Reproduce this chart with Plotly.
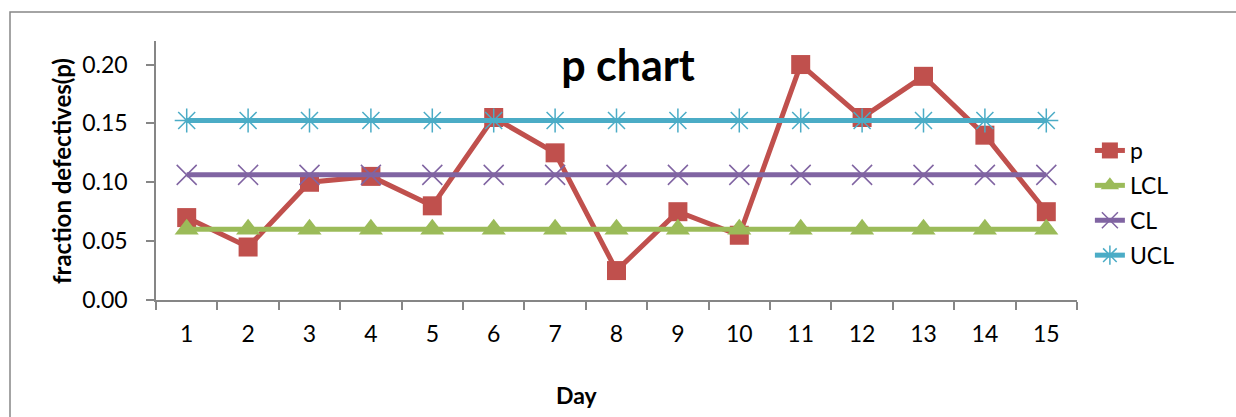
import plotly.graph_objects as go

# Daily fraction defective with p-chart control limits
days = [str(d) for d in range(1, 16)]
p_values = [0.070, 0.045, 0.100, 0.105, 0.080, 0.155, 0.125, 0.025,
            0.075, 0.055, 0.200, 0.155, 0.190, 0.140, 0.075]
lcl = [0.0601] * 15
cl = [0.1063] * 15
ucl = [0.1525] * 15
y_ticks = [0.00, 0.05, 0.10, 0.15, 0.20]

FONT = "Lato"
L, R, T, B = 156, 159, 41, 117
W, H = 1236, 417
plot_w = W - L - R
plot_h = H - T - B


def px_x(x):
    return (x - L) / plot_w


def px_y(y):
    return (H - B - y) / plot_h


fig = go.Figure()

fig.add_trace(go.Scatter(
    x=days, y=p_values, name="p", mode="lines+markers", legendgroup="p",
    line=dict(color="#C0504D", width=5),
    marker=dict(symbol="square", size=19, color="#C0504D"),
))
fig.add_trace(go.Scatter(
    x=days, y=lcl, name="LCL", mode="lines+markers", legendgroup="lcl",
    line=dict(color="#9BBB59", width=5),
    marker=dict(symbol="triangle-up", size=21, color="#9BBB59"),
))
fig.add_trace(go.Scatter(
    x=days, y=cl, name="CL", mode="lines+markers", legendgroup="cl",
    line=dict(color="#8064A2", width=5),
    marker=dict(symbol="x-thin", size=20, color="#8064A2",
                line=dict(color="#8064A2", width=1.5)),
))
fig.add_trace(go.Scatter(
    x=days, y=ucl, name="UCL", mode="lines+markers", legendgroup="ucl",
    line=dict(color="#4BACC6", width=5),
    marker=dict(symbol="asterisk", size=20, color="#4BACC6",
                line=dict(color="#4BACC6", width=1.5)),
))

axis_color = "#868686"

fig.update_layout(
    width=W, height=H,
    margin=dict(l=L, r=R, t=T, b=B),
    paper_bgcolor="white", plot_bgcolor="white",
    font=dict(family=FONT, size=23, color="black"),
    title=dict(text="<b>p chart</b>", font=dict(family=FONT, size=43, color="black"),
               x=628 / W, xanchor="center", xref="container",
               y=1 - 66 / H, yanchor="middle"),
    showlegend=True,
    legend=dict(x=1.014, xanchor="left", y=px_y(129), yanchor="top",
                font=dict(family=FONT, size=23), tracegroupgap=2,
                bgcolor="rgba(0,0,0,0)"),
    xaxis=dict(type="category", range=[-0.5, 14.5], showgrid=False, zeroline=False,
               showline=True, linecolor=axis_color, linewidth=1.5,
               ticks="outside", tickson="boundaries", ticklen=8,
               tickcolor=axis_color, tickwidth=1.5,
               ticklabelstandoff=13),
    yaxis=dict(range=[0, 0.22], tickvals=y_ticks, tickformat=".2f",
               showgrid=False, zeroline=False, showline=True,
               linecolor=axis_color, linewidth=1.5,
               ticks="outside", ticklen=8, tickcolor=axis_color, tickwidth=1.5,
               ticklabelstandoff=14),
    annotations=[
        dict(text="<b>Day</b>", xref="paper", yref="paper",
             x=px_x(577), y=px_y(395), xanchor="center", yanchor="middle",
             showarrow=False, font=dict(family=FONT, size=23)),
        dict(text="<b>fraction defectives(p)</b>", xref="paper", yref="paper",
             x=px_x(61), y=px_y(171), xanchor="center", yanchor="middle",
             textangle=-90, showarrow=False, font=dict(family=FONT, size=24)),
    ],
    shapes=[
        dict(type="rect", xref="paper", yref="paper",
             x0=px_x(10), x1=px_x(1300), y0=px_y(500), y1=px_y(12),
             line=dict(color="#878787", width=1.5), fillcolor="rgba(0,0,0,0)",
             layer="below"),
    ],
)

fig.write_html("out.html")
